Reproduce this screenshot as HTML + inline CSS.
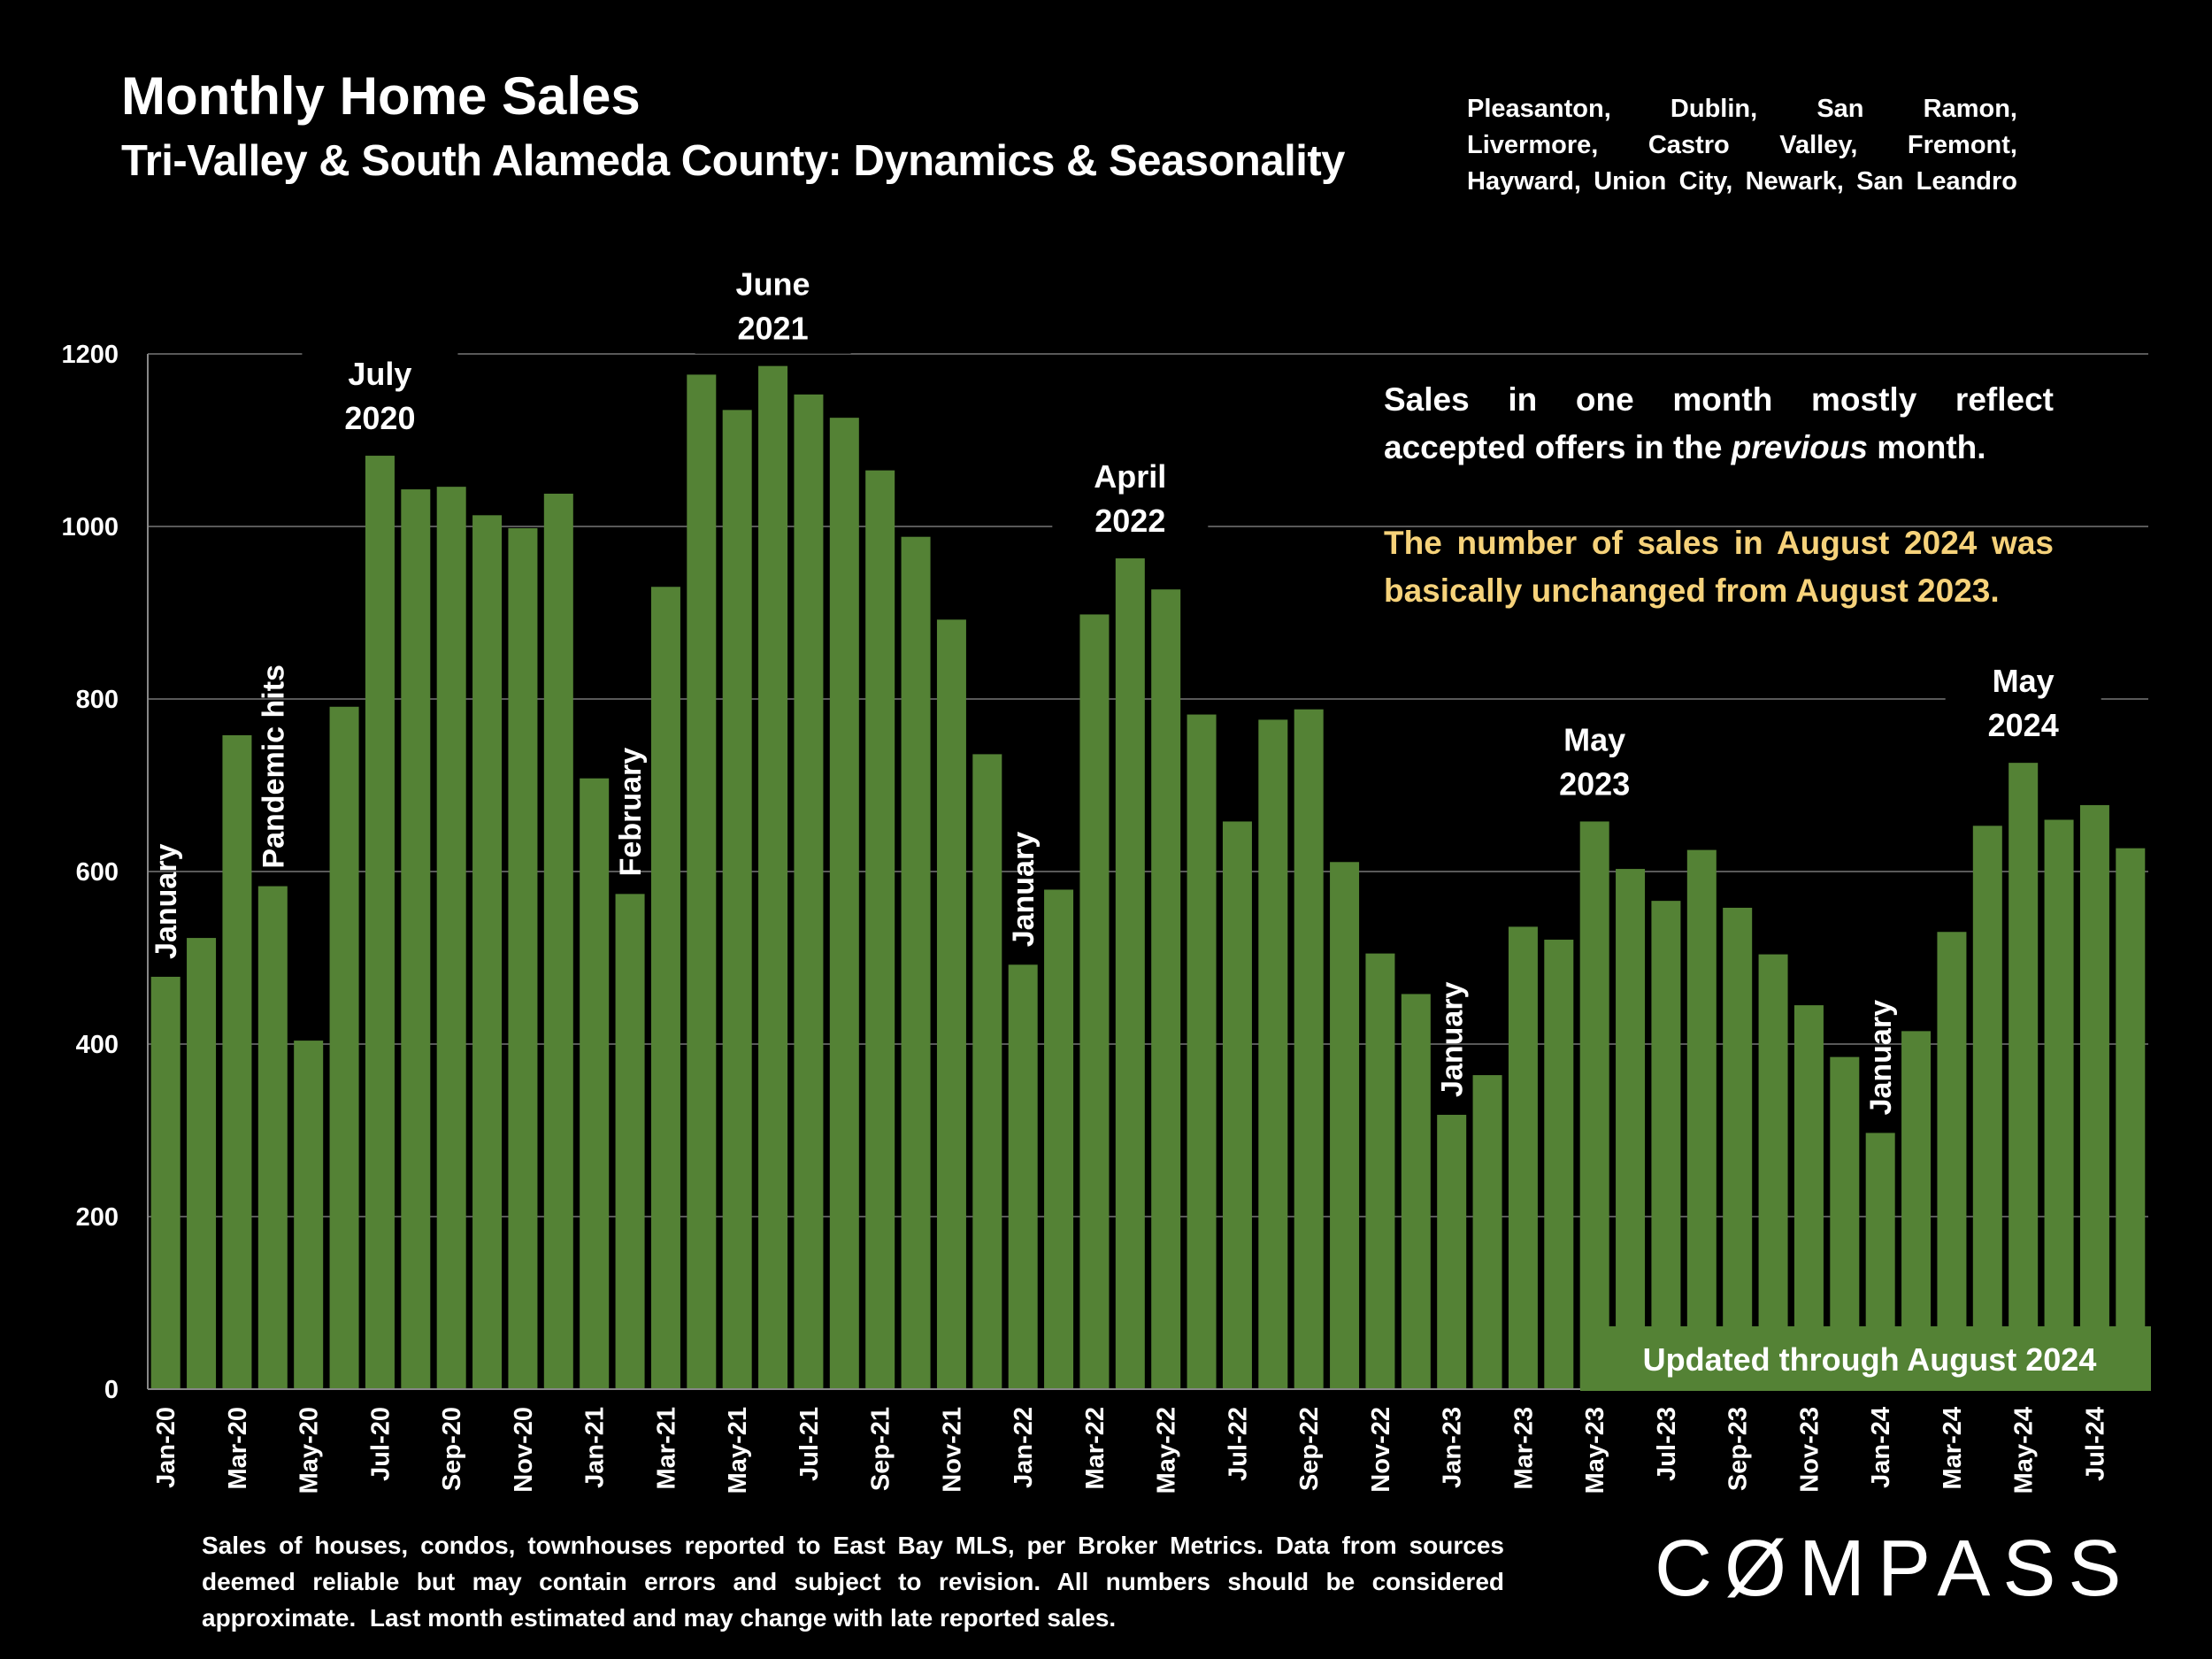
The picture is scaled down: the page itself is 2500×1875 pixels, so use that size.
<!DOCTYPE html>
<html><head><meta charset="utf-8">
<style>
html,body{margin:0;padding:0;background:#000;}
body{width:2500px;height:1875px;overflow:hidden;position:relative;font-family:"Liberation Sans",sans-serif;color:#fff;}
.t{position:absolute;white-space:nowrap;font-weight:bold;}
.j{position:absolute;text-align:justify;text-align-last:justify;font-weight:bold;}
</style></head>
<body>
<div class="t" style="left:137px;top:74px;font-size:60px;">Monthly Home Sales</div>
<div class="t" style="left:137px;top:154px;font-size:49px;letter-spacing:-0.5px;">Tri-Valley &amp; South Alameda County: Dynamics &amp; Seasonality</div>
<div style="position:absolute;left:1658px;top:103px;width:622px;font-size:29px;font-weight:bold;line-height:41px;">
<div class="j" style="position:relative;">Pleasanton, Dublin, San Ramon,</div>
<div class="j" style="position:relative;">Livermore, Castro Valley, Fremont,</div>
<div class="j" style="position:relative;">Hayward, Union City, Newark, San Leandro</div>
</div>
<svg id="chart" width="2500" height="1875" style="position:absolute;left:0;top:0;" xmlns="http://www.w3.org/2000/svg"></svg>
<div style="position:absolute;left:1564px;top:425px;width:757px;font-size:37px;font-weight:bold;line-height:54px;">
<div class="j" style="position:relative;">Sales in one month mostly reflect</div>
<div style="position:relative;">accepted offers in the <i>previous</i> month.</div>
<div style="height:54px"></div>
<div class="j" style="position:relative;color:#F6D27A;">The number of sales in August 2024 was</div>
<div style="position:relative;color:#F6D27A;">basically unchanged from August 2023.</div>
</div>
<div style="position:absolute;left:228px;top:1726px;width:1472px;font-size:28px;font-weight:bold;line-height:41px;">
<div class="j" style="position:relative;">Sales of houses, condos, townhouses reported to East Bay MLS, per Broker Metrics. Data from sources</div>
<div class="j" style="position:relative;">deemed reliable but may contain errors and subject to revision. All numbers should be considered</div>
<div style="position:relative;">approximate.&nbsp; Last month estimated and may change with late reported sales.</div>
</div>
<div class="t" style="left:1870px;top:1722px;font-size:90px;font-weight:normal;letter-spacing:14px;">C&#216;MPASS</div>
<script>
const categories=["Jan-20","Feb-20","Mar-20","Apr-20","May-20","Jun-20","Jul-20","Aug-20","Sep-20","Oct-20","Nov-20","Dec-20","Jan-21","Feb-21","Mar-21","Apr-21","May-21","Jun-21","Jul-21","Aug-21","Sep-21","Oct-21","Nov-21","Dec-21","Jan-22","Feb-22","Mar-22","Apr-22","May-22","Jun-22","Jul-22","Aug-22","Sep-22","Oct-22","Nov-22","Dec-22","Jan-23","Feb-23","Mar-23","Apr-23","May-23","Jun-23","Jul-23","Aug-23","Sep-23","Oct-23","Nov-23","Dec-23","Jan-24","Feb-24","Mar-24","Apr-24","May-24","Jun-24","Jul-24","Aug-24"];
const sales=[478,523,758,583,404,791,1082,1043,1046,1013,998,1038,708,574,930,1176,1135,1186,1153,1126,1065,988,892,736,492,579,898,963,927,782,658,776,788,611,505,458,318,364,536,521,658,603,566,625,558,504,445,385,297,415,530,653,726,660,677,627];
const yTicks=[0,200,400,600,800,1000,1200];
const peakLabels=[["Jul-20","July","2020"],["Jun-21","June","2021"],["Apr-22","April","2022"],["May-23","May","2023"],["May-24","May","2024"]];
const sideLabels=[["Jan-20","January"],["Apr-20","Pandemic hits"],["Feb-21","February"],["Jan-22","January"],["Jan-23","January"],["Jan-24","January"]];

const NS="http://www.w3.org/2000/svg";
const svg=document.getElementById('chart');
const X0=167,X1=2428,Y0=1570,Y1=400,YMAX=1200;
const step=(X1-X0)/categories.length;
const bw=33;
function xc(i){return X0+step*(i+0.5);}
function y(v){return Y0-(v/YMAX)*(Y0-Y1);}
function mk(tag,attrs){const e=document.createElementNS(NS,tag);for(const k in attrs)e.setAttribute(k,attrs[k]);svg.appendChild(e);return e;}

yTicks.forEach(v=>{
  if(v>0){const g=mk('line',{x1:X0,x2:X1,y1:y(v),y2:y(v),stroke:'#595959','stroke-width':2});
  
  }
  const t=mk('text',{x:134,y:y(v)+10,'text-anchor':'end',fill:'#fff','font-size':29,'font-weight':'bold','font-family':'Liberation Sans, sans-serif'});
  t.textContent=v;
  
  
});
const ax=mk('line',{x1:X0,x2:X0,y1:Y1,y2:Y0,stroke:'#888','stroke-width':2});



sales.forEach((v,i)=>{
  const r=mk('rect',{x:xc(i)-bw/2,y:y(v),width:bw,height:Y0-y(v),fill:'#548235'});
  
  
});
const xa=mk('line',{x1:X0,x2:X1,y1:Y0,y2:Y0,stroke:'#888','stroke-width':2});



categories.forEach((c,i)=>{
  if(i%2) return;
  const t=mk('text',{x:0,y:0,'text-anchor':'end',fill:'#fff','font-size':29,'font-weight':'bold','font-family':'Liberation Sans, sans-serif',transform:`translate(${xc(i)+10},1590) rotate(-90)`});
  t.textContent=c;
  
  
});

peakLabels.forEach(p=>{
  const i=categories.indexOf(p[0]);
  const top=y(sales[i])-118;
  const bg=mk('rect',{x:xc(i)-88,y:top-8,width:176,height:112,fill:'#000'});
  
  
  [p[1],p[2]].forEach((s,k)=>{
    const t=mk('text',{x:xc(i),y:top+38+k*50,'text-anchor':'middle',fill:'#fff','font-size':36,'font-weight':'bold','font-family':'Liberation Sans, sans-serif'});
    t.textContent=s;
    
    
  });
});

sideLabels.forEach(p=>{
  const i=categories.indexOf(p[0]);
  const t=mk('text',{x:0,y:0,'text-anchor':'start',fill:'#fff','font-size':34,'font-weight':'bold','font-family':'Liberation Sans, sans-serif',transform:`translate(${xc(i)+12},${y(sales[i])-20}) rotate(-90)`});
  t.textContent=p[1];
  
  
});

const ub=mk('rect',{x:1786,y:1499,width:645,height:73,fill:'#548235'});


const ut=mk('text',{x:2113,y:1549,'text-anchor':'middle',fill:'#fff','font-size':36,'font-weight':'bold','font-family':'Liberation Sans, sans-serif'});
ut.textContent='Updated through August 2024';


</script>
</body></html>
